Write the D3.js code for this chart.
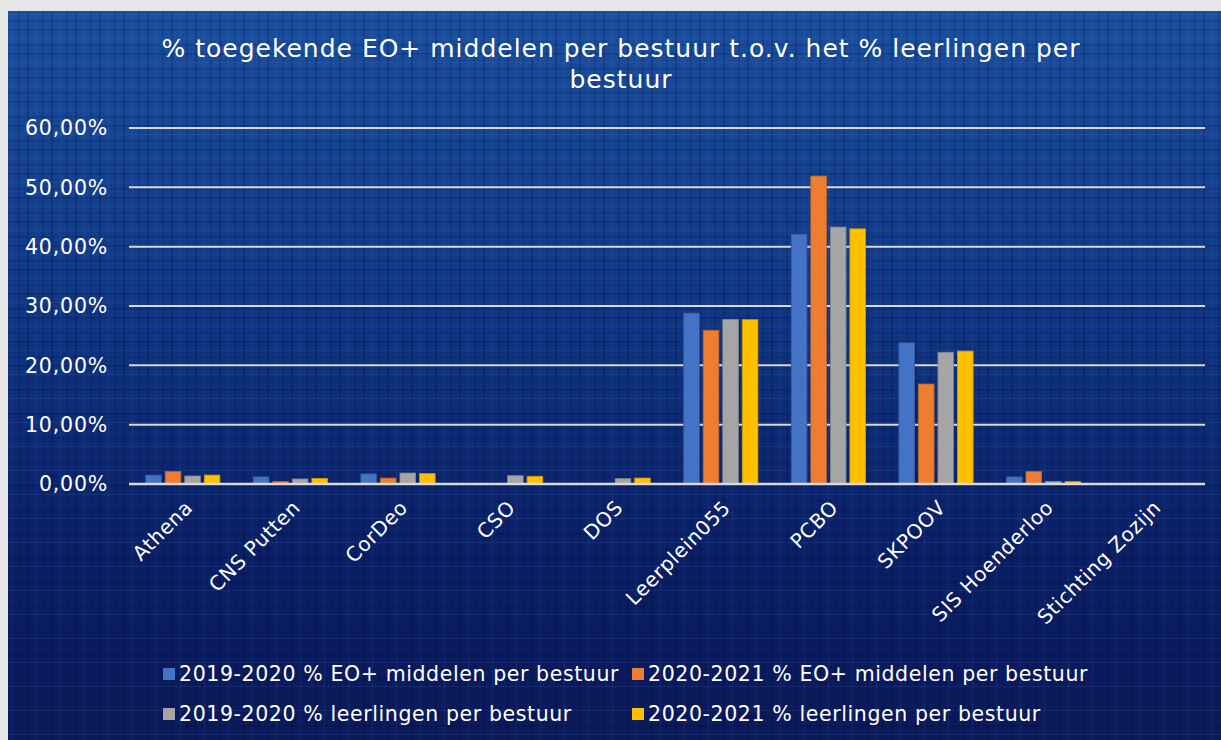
<!DOCTYPE html>
<html><head><meta charset="utf-8">
<script src="https://cdn.jsdelivr.net/npm/d3@7"></script>
<style>
html,body{margin:0;padding:0;background:#e6e6e6;}
svg{display:block;font-family:"DejaVu Sans",Verdana,sans-serif;}
</style></head>
<body>
<svg id="chart" width="1221" height="740"></svg>
<script>
const categories = ["Athena","CNS Putten","CorDeo","CSO","DOS","Leerplein055","PCBO","SKPOOV","SIS Hoenderloo","Stichting Zozijn"];
const seriesNames = ["2019-2020 % EO+ middelen per bestuur","2020-2021 % EO+ middelen per bestuur","2019-2020 % leerlingen per bestuur","2020-2021 % leerlingen per bestuur"];
const eo1920 = [1.5, 1.2, 1.7, 0, 0, 28.8, 42.1, 23.8, 1.2, 0];
const eo2021 = [2.1, 0.4, 1.0, 0, 0, 25.9, 51.9, 16.85, 2.1, 0];
const ll1920 = [1.35, 0.85, 1.85, 1.4, 0.9, 27.75, 43.3, 22.2, 0.45, 0];
const ll2021 = [1.5, 0.95, 1.75, 1.3, 1.0, 27.7, 43.0, 22.4, 0.4, 0];
const yTicks = [0,10,20,30,40,50,60];
const colors = ["#4472c4","#ed7d31","#a5a5a5","#ffc000"];
const seriesValues = [eo1920, eo2021, ll1920, ll2021];

const svg = d3.select("#chart");
const W = 1221, H = 740;
const defs = svg.append("defs");
const grad = defs.append("linearGradient").attr("id","bg").attr("x1",0).attr("y1",0).attr("x2",0).attr("y2",1);
grad.append("stop").attr("offset","0%").attr("stop-color","#1a4f9f");
grad.append("stop").attr("offset","45%").attr("stop-color","#0f3481");
grad.append("stop").attr("offset","75%").attr("stop-color","#0a1f66");
grad.append("stop").attr("offset","100%").attr("stop-color","#0a1a5a");
const pat = defs.append("pattern").attr("id","plaid").attr("width",24).attr("height",24).attr("patternUnits","userSpaceOnUse");
pat.append("rect").attr("x",3).attr("y",0).attr("width",2).attr("height",24).attr("fill","rgba(0,0,40,0.18)");
pat.append("rect").attr("x",12).attr("y",0).attr("width",1).attr("height",24).attr("fill","rgba(120,160,230,0.10)");
pat.append("rect").attr("x",18).attr("y",0).attr("width",2).attr("height",24).attr("fill","rgba(0,0,40,0.12)");
pat.append("rect").attr("x",0).attr("y",5).attr("width",24).attr("height",2).attr("fill","rgba(0,0,40,0.15)");
pat.append("rect").attr("x",0).attr("y",14).attr("width",24).attr("height",1).attr("fill","rgba(120,160,230,0.10)");
pat.append("rect").attr("x",0).attr("y",20).attr("width",24).attr("height",2).attr("fill","rgba(0,0,40,0.10)");

svg.append("rect").attr("x",0).attr("y",0).attr("width",W).attr("height",H).attr("fill","#e6e6e6");
svg.append("rect").attr("x",8).attr("y",11).attr("width",W-8).attr("height",H-11).attr("fill","url(#bg)");
svg.append("rect").attr("x",8).attr("y",11).attr("width",W-8).attr("height",H-11).attr("fill","url(#plaid)");

const m = {left:129, right:1205, top:128, bottom:484};
const x0 = d3.scaleBand().domain(categories).range([m.left, m.right]).paddingInner(0).paddingOuter(0);
const groupW = x0.bandwidth()*0.69;
const x1 = d3.scaleBand().domain(d3.range(4)).range([0, groupW]).paddingInner(0.2).paddingOuter(0);
const y = d3.scaleLinear().domain([0,60]).range([m.bottom, m.top]);

// gridlines
svg.append("g").selectAll("line").data(yTicks.filter(t=>t>0)).join("line")
  .attr("x1",m.left).attr("x2",m.right).attr("y1",d=>y(d)).attr("y2",d=>y(d))
  .attr("stroke","#d9d9d9").attr("stroke-width",2);

// y labels
svg.append("g").selectAll("text").data(yTicks).join("text")
  .attr("x",108).attr("y",d=>y(d)).attr("dy","0.36em").attr("text-anchor","end")
  .attr("fill","#ffffff").attr("font-size",20.5).attr("letter-spacing",0.8)
  .text(d=>d3.format(".2f")(d).replace(".",",")+"%");

// bars
const groups = svg.append("g").selectAll("g").data(categories).join("g")
  .attr("transform",d=>`translate(${x0(d)+(x0.bandwidth()-groupW)/2},0)`);
groups.selectAll("rect").data((c,i)=>seriesValues.map((s,k)=>({k, v:s[i]}))).join("rect")
  .attr("x",d=>x1(d.k)).attr("width",x1.bandwidth())
  .attr("y",d=>y(d.v)).attr("height",d=>y(0)-y(d.v))
  .attr("fill",d=>colors[d.k])
  .attr("stroke",d=>d3.color(colors[d.k]).darker(0.6)).attr("stroke-width",d=>d.v>0?0.8:0);

// x axis line
svg.append("line").attr("x1",m.left).attr("x2",m.right).attr("y1",y(0)).attr("y2",y(0))
  .attr("stroke","#d9d9d9").attr("stroke-width",2.5);

// category labels
svg.append("g").selectAll("text").data(categories).join("text")
  .attr("transform",d=>`translate(${x0(d)+x0.bandwidth()/2+6},${y(0)+20}) rotate(-45)`)
  .attr("text-anchor","end").attr("dy","0.35em")
  .attr("fill","#ffffff").attr("font-size",20).attr("letter-spacing",0.6).text(d=>d);

// title
const title = svg.append("text").attr("fill","#ffffff").attr("font-size",25).attr("letter-spacing",1).attr("text-anchor","middle");
title.append("tspan").attr("x",621).attr("y",57).text("% toegekende EO+ middelen per bestuur t.o.v. het % leerlingen per");
title.append("tspan").attr("x",621).attr("y",88).text("bestuur");

// legend
const legPos = [[163,674],[632,674],[163,714],[632,714]];
const leg = svg.append("g").selectAll("g").data(seriesNames).join("g")
  .attr("transform",(d,i)=>`translate(${legPos[i][0]},${legPos[i][1]})`);
leg.append("rect").attr("x",0).attr("y",-6).attr("width",12).attr("height",12).attr("fill",(d,i)=>colors[i]);
leg.append("text").attr("x",16).attr("dy","0.36em").attr("fill","#ffffff").attr("font-size",20.5).attr("letter-spacing",0.6).text(d=>d);
</script>
</body></html>
